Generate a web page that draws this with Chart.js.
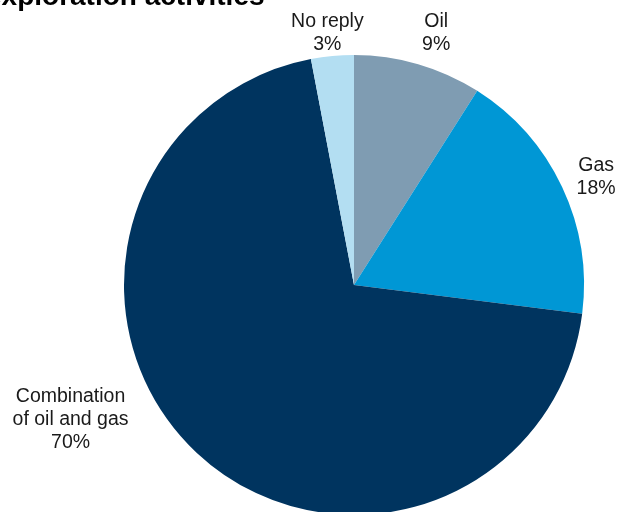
<!DOCTYPE html>
<html>
<head>
<meta charset="utf-8">
<script src="https://cdn.jsdelivr.net/npm/chart.js@4"></script>
<style>
html,body{margin:0;padding:0;background:#fff;overflow:hidden;width:620px;height:512px;}
#wrap{position:absolute;left:0;top:0;width:620px;height:530px;}
</style>
</head>
<body>
<div id="wrap"><canvas id="c" width="620" height="530"></canvas></div>
<script>
const titleText = 'exploration activities';
const categories = ['Oil', 'Gas', 'Combination of oil and gas', 'No reply'];
const labelLines = [['Oil'], ['Gas'], ['Combination', 'of oil and gas'], ['No reply']];
const values = [9, 18, 70, 3];
const colors = ['#7f9cb2', '#0097d5', '#00345f', '#b3def2'];
const labelOffsets = [[18, -37], [34, -16], [-126, -51], [-5, -29]];

const labelPlugin = {
  id: 'outLabels',
  afterDraw(chart) {
    const ctx = chart.ctx;
    const meta = chart.getDatasetMeta(0);
    ctx.save();
    ctx.fillStyle = '#1a1a1a';
    ctx.font = '19.5px "Liberation Sans", Arial, sans-serif';
    ctx.textAlign = 'center';
    ctx.textBaseline = 'alphabetic';
    meta.data.forEach((arc, i) => {
      const p = arc.getProps(['x', 'y', 'startAngle', 'endAngle', 'outerRadius'], true);
      const mid = (p.startAngle + p.endAngle) / 2;
      const ax = p.x + Math.cos(mid) * p.outerRadius;
      const ay = p.y + Math.sin(mid) * p.outerRadius;
      const lines = labelLines[i].concat([values[i] + '%']);
      const bx = ax + labelOffsets[i][0];
      const by = ay + labelOffsets[i][1];
      lines.forEach((t, j) => ctx.fillText(t, bx, by + j * 23));
    });
    ctx.font = 'bold 28px "Liberation Sans", Arial, sans-serif';
    ctx.textAlign = 'left';
    ctx.fillStyle = '#000';
    ctx.fillText(titleText, -14, 5);
    ctx.restore();
  }
};

new Chart(document.getElementById('c'), {
  type: 'pie',
  data: {
    labels: categories,
    datasets: [{
      data: values,
      backgroundColor: colors,
      borderWidth: 0
    }]
  },
  options: {
    responsive: false,
    animation: false,
    layout: { padding: { left: 124, right: 36, top: 55, bottom: 15 } },
    plugins: { legend: { display: false }, tooltip: { enabled: false }, title: { display: false } }
  },
  plugins: [labelPlugin]
});
</script>
</body>
</html>
